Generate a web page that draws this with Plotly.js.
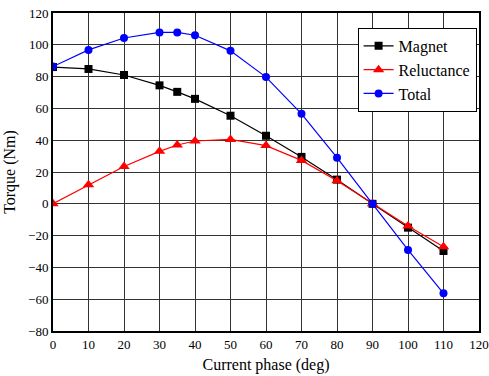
<!DOCTYPE html>
<html><head><meta charset="utf-8">
<script src="https://cdn.plot.ly/plotly-3.0.1.min.js"></script>
<style>
html,body{margin:0;padding:0;background:#fff;}
#chart text{font-family:"Liberation Serif","Times New Roman",serif !important;}
</style>
</head><body>
<div id="chart" style="width:489px;height:376px;"></div>
<script>
const phase = [0, 10, 20, 30, 35, 40, 50, 60, 70, 80, 90, 100, 110];
const magnet = [86, 84.8, 81, 74.5, 70.4, 66, 55.4, 42.8, 29.5, 15.2, 0, -15, -29.7];
const reluctance = [0, 12, 23.5, 33, 37, 39.5, 40.5, 36.6, 27.3, 14.5, 0, -14, -27];
const total = [86.3, 96.8, 104.3, 107.8, 107.8, 106, 96.2, 79.7, 56.6, 29, 0, -29, -56.3];

const font = "Liberation Serif, Times New Roman, serif";
const traces = [
  {x: phase, y: magnet, name: "Magnet", mode: "lines+markers",
   line: {color: "#000000", width: 1.2}, marker: {symbol: "square", size: 8, color: "#000000"}},
  {x: phase, y: reluctance, name: "Reluctance", mode: "lines+markers",
   line: {color: "#ff0000", width: 1.2}, marker: {symbol: "triangle-up", size: 10, color: "#ff0000"}},
  {x: phase, y: total, name: "Total", mode: "lines+markers",
   line: {color: "#0000ff", width: 1.2}, marker: {symbol: "circle", size: 8, color: "#0000ff"}}
];
const layout = {
  width: 489, height: 376,
  margin: {l: 53, r: 10, t: 13, b: 45},
  paper_bgcolor: "#ffffff", plot_bgcolor: "#ffffff",
  font: {family: font, size: 13, color: "#000"},
  showlegend: true,
  legend: {x: 0.715, y: 0.953, xanchor: "left", yanchor: "top",
    bgcolor: "#ffffff", bordercolor: "#000", borderwidth: 1,
    font: {family: font, size: 16, color: "#000"}, tracegroupgap: 0, itemwidth: 30},
  xaxis: {range: [0, 120], tickmode: "linear", tick0: 0, dtick: 10,
    showgrid: true, gridcolor: "#333", gridwidth: 1, zeroline: false,
    showline: true, linecolor: "#000", linewidth: 2, mirror: true,
    ticks: "", ticklabeloverflow: "allow", tickfont: {family: font, size: 13, color: "#000"},
    title: {text: "Current phase (deg)", font: {family: font, size: 16}, standoff: 8}},
  yaxis: {range: [-80, 120], tickmode: "linear", tick0: -80, dtick: 20,
    showgrid: true, gridcolor: "#333", gridwidth: 1, zeroline: false,
    showline: true, linecolor: "#000", linewidth: 2, mirror: true,
    ticks: "", tickfont: {family: font, size: 13, color: "#000"},
    title: {text: "Torque (Nm)", font: {family: font, size: 16}, standoff: 8}}
};
Plotly.newPlot("chart", traces, layout, {displayModeBar: false, staticPlot: true});
</script>
</body></html>
